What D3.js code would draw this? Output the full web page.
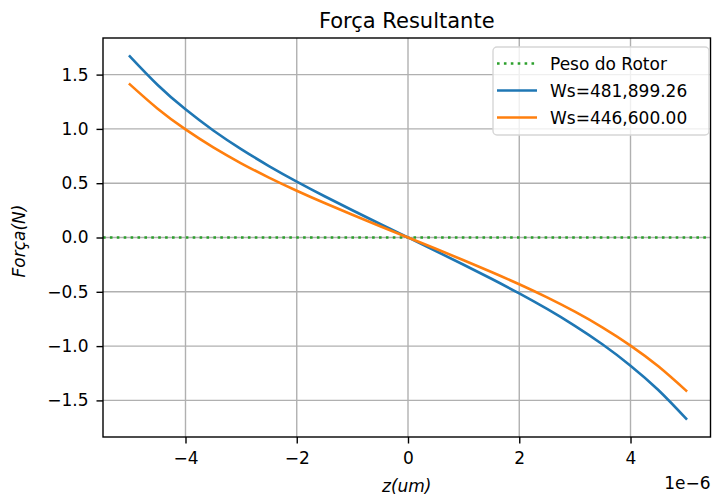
<!DOCTYPE html>
<html>
<head>
<meta charset="utf-8">
<script src="https://cdn.jsdelivr.net/npm/d3@7"></script>
<style>
  html, body { margin: 0; padding: 0; background: #fff; }
  svg { display: block; }
  text { font-family: "DejaVu Sans", sans-serif; fill: #000; }
</style>
</head>
<body>
<script>
// ---- data (z in units of 1e-6 m, force in N) ----
const zValues = [-5, -4.5, -4, -3.5, -3, -2.5, -2, -1.5, -1, -0.5, 0, 0.5, 1, 1.5, 2, 2.5, 3, 3.5, 4, 4.5, 5];
const forceWs481899 = [1.668, 1.4045, 1.180, 0.9855, 0.8136, 0.6583, 0.515, 0.3801, 0.2506, 0.1245, 0, -0.1245, -0.2506, -0.3801, -0.515, -0.6583, -0.8136, -0.9855, -1.180, -1.4045, -1.668];
const forceWs446600 = [1.410, 1.186, 0.995, 0.8295, 0.6834, 0.5519, 0.431, 0.3176, 0.2092, 0.1039, 0, -0.1039, -0.2092, -0.3176, -0.431, -0.5519, -0.6834, -0.8295, -0.995, -1.186, -1.410];
const rotorWeight = 0;
const xTicks = [-4, -2, 0, 2, 4];
const yTicks = [-1.5, -1.0, -0.5, 0.0, 0.5, 1.0, 1.5];
const seriesNames = ["Peso do Rotor", "Ws=481,899.26", "Ws=446,600.00"];
const seriesColors = ["#2ca02c", "#1f77b4", "#ff7f0e"];

const W = 713, H = 497;
const plot = { left: 103, right: 710.5, top: 38, bottom: 437 };

const svg = d3.select("body").append("svg").attr("width", W).attr("height", H);

const x = d3.scaleLinear().domain([-5.483, 5.438]).range([plot.left, plot.right]);
const y = d3.scaleLinear().domain([-1.837, 1.837]).range([plot.bottom, plot.top]);

const minus = s => s.replace("-", "\u2212");

// grid
const grid = svg.append("g").attr("stroke", "#b0b0b0").attr("stroke-width", 1.4);
grid.selectAll("line.gx").data(xTicks).join("line")
  .attr("x1", d => x(d)).attr("x2", d => x(d))
  .attr("y1", plot.top).attr("y2", plot.bottom);
grid.selectAll("line.gy").data(yTicks).join("line")
  .attr("x1", plot.left).attr("x2", plot.right)
  .attr("y1", d => y(d)).attr("y2", d => y(d));

// axes
const xAxis = d3.axisBottom(x).tickValues(xTicks).tickSize(6.5).tickPadding(8)
  .tickFormat(d => minus(d3.format("d")(d)));
const yAxis = d3.axisLeft(y).tickValues(yTicks).tickSize(6.5).tickPadding(8)
  .tickFormat(d => minus(d3.format(".1f")(d)));

const gx = svg.append("g").attr("transform", `translate(0,${plot.bottom})`).call(xAxis);
const gy = svg.append("g").attr("transform", `translate(${plot.left},0)`).call(yAxis);
[gx, gy].forEach(g => {
  g.select(".domain").remove();
  g.selectAll(".tick line").attr("stroke", "#000").attr("stroke-width", 1.4);
  g.selectAll(".tick text").attr("font-size", 17).attr("font-family", "DejaVu Sans").attr("fill", "#000");
});

// data lines
const clip = svg.append("clipPath").attr("id", "clip").append("rect")
  .attr("x", plot.left).attr("y", plot.top)
  .attr("width", plot.right - plot.left).attr("height", plot.bottom - plot.top);
const lines = svg.append("g").attr("clip-path", "url(#clip)");

lines.append("line")
  .attr("x1", plot.left).attr("x2", plot.right)
  .attr("y1", y(rotorWeight)).attr("y2", y(rotorWeight))
  .attr("stroke", seriesColors[0]).attr("stroke-width", 2.6)
  .attr("stroke-dasharray", "2.6,4.3");

const lineGen = d3.line().x((d, i) => x(zValues[i])).y(d => y(d)).curve(d3.curveNatural);
[forceWs481899, forceWs446600].forEach((s, k) => {
  lines.append("path").datum(s).attr("d", lineGen)
    .attr("fill", "none").attr("stroke", seriesColors[k + 1])
    .attr("stroke-width", 2.6).attr("stroke-linecap", "square");
});

// spines
svg.append("rect")
  .attr("x", plot.left).attr("y", plot.top)
  .attr("width", plot.right - plot.left).attr("height", plot.bottom - plot.top)
  .attr("fill", "none").attr("stroke", "#000").attr("stroke-width", 1.4);

// title
svg.append("text").attr("x", (plot.left + plot.right) / 2).attr("y", 28)
  .attr("text-anchor", "middle").attr("font-size", 21).text("Força Resultante");

// axis labels
svg.append("text").attr("x", (plot.left + plot.right) / 2).attr("y", 492)
  .attr("text-anchor", "middle").attr("font-size", 17).attr("font-style", "italic")
  .text("z(um)");
svg.append("text").attr("transform", `translate(25,241) rotate(-90)`)
  .attr("text-anchor", "middle").attr("font-size", 17).attr("font-style", "italic")
  .text("Força(N)");

// offset text
svg.append("text").attr("x", plot.right).attr("y", 489)
  .attr("text-anchor", "end").attr("font-size", 17).text("1e\u22126");

// legend
const lg = svg.append("g");
lg.append("rect").attr("x", 493).attr("y", 47).attr("width", 216).attr("height", 88)
  .attr("rx", 4).attr("fill", "#fff").attr("fill-opacity", 0.8)
  .attr("stroke", "#d6d6d6").attr("stroke-width", 1.4);
const rowsY = [63.5, 90.5, 117.5];
seriesNames.forEach((name, i) => {
  const l = lg.append("line").attr("x1", 497).attr("x2", 537)
    .attr("y1", rowsY[i]).attr("y2", rowsY[i])
    .attr("stroke", seriesColors[i]).attr("stroke-width", 2.6);
  if (i === 0) l.attr("stroke-dasharray", "2.6,4.3");
  lg.append("text").attr("x", 550).attr("y", rowsY[i] + 6.5)
    .attr("font-size", 17).text(name);
});
</script>
</body>
</html>
